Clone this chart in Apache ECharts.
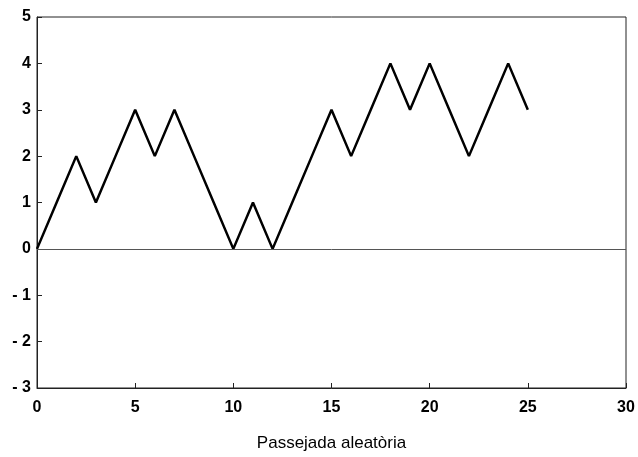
<!DOCTYPE html>
<html><head><meta charset="utf-8">
<script src="https://cdn.jsdelivr.net/npm/echarts@6/dist/echarts.min.js"></script>
<style>html,body{margin:0;padding:0;background:#fff}#c{width:638px;height:457px}</style>
</head><body><div id="c"></div>
<script>
const steps = [0,1,2,3,4,5,6,7,8,9,10,11,12,13,14,15,16,17,18,19,20,21,22,23,24,25];
const position = [0,1,2,1,2,3,2,3,2,1,0,1,0,1,2,3,2,3,4,3,4,3,2,3,4,3];
const xTitle = 'Passejada aleatòria';
const chart = echarts.init(document.getElementById('c'));
const lbl = {color:'#000', fontFamily:'Liberation Sans, Arial, sans-serif', fontWeight:'bold', fontSize:16};
chart.setOption({
  animation:false,
  grid:{left:37,right:12,top:17,bottom:69,show:true,borderColor:'#222',borderWidth:1},
  xAxis:{type:'value',min:0,max:30,interval:5,
    name:xTitle,nameLocation:'middle',nameGap:47,
    nameTextStyle:{color:'#000',fontFamily:'Liberation Sans, Arial, sans-serif',fontSize:17},
    axisLine:{show:true,onZero:false,lineStyle:{color:'#222',width:1}},
    axisTick:{show:true,inside:true,length:5,lineStyle:{color:'#222'}},
    axisLabel:Object.assign({margin:12, formatter:v=>String(v)},lbl),
    splitLine:{show:false}},
  yAxis:{type:'value',min:-3,max:5,interval:1,
    axisLine:{show:true,onZero:false,lineStyle:{color:'#222',width:1}},
    axisTick:{show:true,inside:true,length:5,lineStyle:{color:'#222'}},
    axisLabel:Object.assign({margin:6, formatter:v=>v<0?'- '+Math.abs(v):String(v)},lbl),
    splitLine:{show:false}},
  series:[{type:'line',data:steps.map((s,i)=>[s,position[i]]),
    showSymbol:false,lineStyle:{color:'#000',width:2.5},
    markLine:{silent:true,symbol:'none',label:{show:false},
      lineStyle:{color:'#555',width:1,type:'solid'},data:[{yAxis:0}]}}]
});
</script></body></html>
